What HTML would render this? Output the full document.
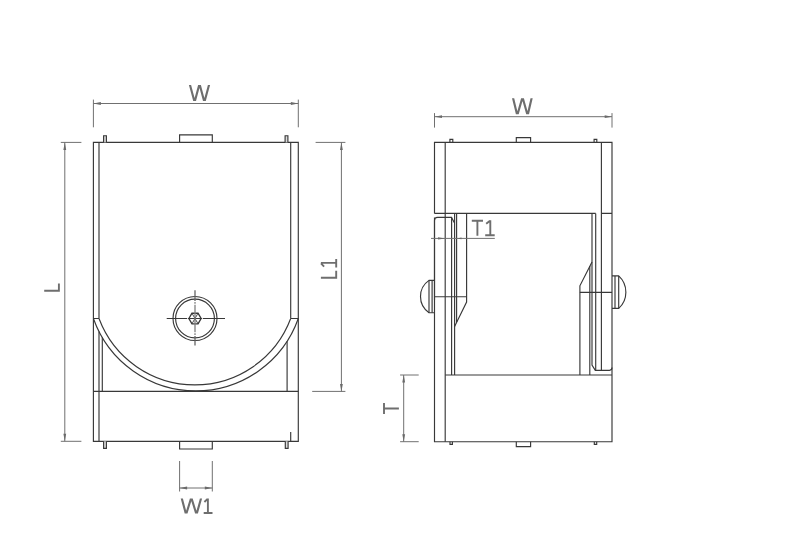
<!DOCTYPE html>
<html>
<head>
<meta charset="utf-8">
<title>Drawing</title>
<style>
html,body{margin:0;padding:0;background:#fff;}
body{width:804px;height:557px;overflow:hidden;font-family:"Liberation Sans",sans-serif;}
svg{display:block;}
.o{stroke:#383838;stroke-width:1.15;fill:none;}
.p{fill:#dcdcdc;}
.d{stroke:#707070;stroke-width:1;fill:none;}
.t{stroke:#6e6e6e;stroke-width:1.9;fill:none;stroke-linecap:butt;stroke-linejoin:miter;}
.a{fill:#6a6a6a;stroke:none;}
</style>
</head>
<body>
<svg width="804" height="557" viewBox="0 0 804 557">
<rect width="804" height="557" fill="#ffffff"/>

<!-- ================= LEFT VIEW ================= -->
<g class="o">
  <!-- outer box -->
  <path d="M93.4 142.4 H298.3 V441.3 H93.4 Z"/>
  <!-- inner verticals -->
  <path d="M99 142.4 V318.5 M99 331.4 V441.3"/>
  <path d="M290.7 142.4 V318.5"/>
  <path d="M93.4 318.5 H99 M290.7 318.5 H298.3"/>
  <!-- arcs -->
  <path d="M93.4 318.5 A108.7 108.7 0 0 0 298.3 318.5"/>
  <path d="M99 318.5 A102.4 102.4 0 0 0 290.7 318.5"/>
  <!-- shelf line -->
  <path d="M93.4 391.4 H298.3"/>
  <path d="M102.3 337.6 V391.4"/>
  <path d="M287.1 341.2 V391.4"/>
  <path d="M290.7 432 V441.3"/>
  <!-- top tab & pins -->
  <path d="M179.6 142.4 V134.9 H212.3 V142.4"/>
  <path class="p" d="M103.6 142.4 V135.7 H106.4 V142.4"/>
  <path class="p" d="M285.1 142.4 V135.7 H287.9 V142.4"/>
  <!-- bottom tab & pins -->
  <path d="M179.6 441.3 V449 H212.3 V441.3"/>
  <path class="p" d="M103.6 441.3 V448.4 H106.4 V441.3"/>
  <path class="p" d="M285.3 441.3 V448.4 H288.1 V441.3"/>
  <!-- bolt -->
  <circle cx="195" cy="318.5" r="22"/>
  <circle cx="195" cy="318.5" r="19.4"/>
  <path d="M188.9 318.5 L191.95 313.2 H198.05 L201.1 318.5 L198.05 323.8 H191.95 Z" stroke-width="1.35"/>
  <path d="M191.95 313.2 L198.05 323.8 M198.05 313.2 L191.95 323.8" stroke-width="0.9"/>
  <path d="M166.7 318.5 H187.2 M188.0 318.5 H202.0 M202.8 318.5 H225"/>
</g>
<path d="M195 290.2 V300.9 M195 336.1 V345.6" stroke="#666" stroke-width="1.3" fill="none"/>
<path d="M195 301.9 V303.7 M195 304.7 V332.3 M195 333.3 V335.1" stroke="#808080" stroke-width="1.3" fill="none"/>

<!-- dims left -->
<g class="d">
  <path d="M93.4 99.6 V127.3 M298.3 99.6 V127.3 M93.4 103.5 H298.3"/>
  <path d="M60.8 142.4 H81.4 M60.8 441.3 H81.4 M64.8 142.4 V441.3"/>
  <path d="M315.6 142.4 H345.4 M312.2 391.4 H345.4 M341.4 142.4 V391.4"/>
  <path d="M179.6 461 V491.5 M212.3 461 V491.5 M179.6 488 H212.3"/>
</g>
<g class="a">
  <path d="M93.4 103.5 L100.9 102.1 V104.9 Z"/>
  <path d="M298.3 103.5 L290.8 102.1 V104.9 Z"/>
  <path d="M64.8 142.4 L63.4 149.9 H66.2 Z"/>
  <path d="M64.8 441.3 L63.4 433.8 H66.2 Z"/>
  <path d="M341.4 142.4 L340.0 149.9 H342.8 Z"/>
  <path d="M341.4 391.4 L340.0 383.9 H342.8 Z"/>
  <path d="M179.6 488.0 L187.1 486.6 V489.4 Z"/>
  <path d="M212.3 488.0 L204.8 486.6 V489.4 Z"/>
</g>

<!-- text left -->
<g class="t">
  <!-- W -->
  <path d="M188.90 85.1 L191.10 85.1 L195.40 101.1 L193.20 101.1 Z M198.10 85.1 L200.30 85.1 L196.00 101.1 L193.80 101.1 Z M198.70 85.1 L200.90 85.1 L205.20 101.1 L203.00 101.1 Z M207.90 85.1 L210.10 85.1 L205.80 101.1 L203.60 101.1 Z" style="fill:#6e6e6e;stroke:none"/>
  <!-- L rotated -->
  <path d="M44.2 290.8 H58.9 V283.4"/>
  <!-- L1 rotated -->
  <path d="M320.9 277.7 H336.2 V270.7"/>
  <path d="M324.1 266.6 L321.0 263.3 M320.9 262.9 H336.8 M336.2 258.9 V267.5"/>
  <!-- W1 -->
  <path d="M180.70 498.4 L182.90 498.4 L186.90 513.6 L184.70 513.6 Z M189.90 498.4 L192.10 498.4 L187.50 513.6 L185.30 513.6 Z M190.50 498.4 L192.70 498.4 L197.30 513.6 L195.10 513.6 Z M199.90 498.4 L202.10 498.4 L197.90 513.6 L195.70 513.6 Z" style="fill:#6e6e6e;stroke:none"/>
  <path d="M204.4 502.0 L207.6 498.9 M207.9 498.4 V513 M203.7 513 H212.5"/>
</g>

<!-- ================= RIGHT VIEW ================= -->
<g class="o">
  <!-- outer -->
  <path d="M434.5 213.4 V142.4 H612.0 V441.7 H434.5 V217.4"/>
  <path d="M445.2 142.4 V441.7"/>
  <path d="M601.4 142.4 V370.3"/>
  <path d="M434.5 213.4 H595.7 M601.4 213.4 H612.0"/>
  <!-- left plate -->
  <path d="M434.5 300 V220.4 Q434.5 217.4 437.5 217.4 H451.5 L454.5 223"/>
  <path d="M451.6 217.4 V375"/>
  <path d="M454.6 213.4 V375"/>
  <path d="M456.6 213.4 V322"/>
  <path d="M466.6 213.4 V302 L454.6 326.5"/>
  <path d="M434.5 296.7 H466.6"/>
  <!-- left bolt head -->
  <path d="M434.5 280.4 H429 A19.6 19.6 0 0 0 429 312.7 H434.5"/>
  <path d="M429 280.4 V312.7 M432.1 280.4 V312.7"/>
  <!-- shelf -->
  <path d="M445.2 375 H612.0"/>
  <!-- right plate -->
  <path d="M595.7 213.4 V370"/>
  <path d="M592 213.4 V365 L595.3 370.3 H609.5 Q612.0 370.3 612.0 367.6"/>
  <path d="M589.8 266 V375"/>
  <path d="M592 261.9 L579.9 285.8 V375"/>
  <path d="M579.9 292.3 H612.0"/>
  <!-- right bolt head -->
  <path d="M612.0 275.9 H618.7 A22 22 0 0 1 618.7 308.4 H612.0"/>
  <path d="M615 275.9 V308.4 M618.7 275.9 V308.4"/>
  <!-- tabs / pins -->
  <path d="M516.3 142.4 V137.6 H530.6 V142.4"/>
  <path d="M449.9 142.4 V139.3 H452.8 V142.4"/>
  <path d="M594.1 142.4 V139.3 H596.8 V142.4"/>
  <path d="M516.3 441.7 V446.6 H530.6 V441.7"/>
  <path d="M450 441.7 V444.4 H452.4 V441.7"/>
  <path d="M594.3 441.7 V444.4 H596.7 V441.7"/>
</g>

<!-- dims right -->
<g class="d">
  <path d="M434.5 113.1 V127.6 M612.0 113.1 V127.6 M434.5 116.7 H612.0"/>
  <path d="M400.1 375 H418.7 M400.1 441.7 H418.7 M403.7 375 V441.7"/>
  <path d="M431 238.4 H494.8"/>
</g>
<g class="a">
  <path d="M434.5 116.7 L442.0 115.3 V118.1 Z"/>
  <path d="M612.0 116.7 L604.7 115.3 V118.1 Z"/>
  <path d="M403.7 375.0 L402.3 382.5 H405.1 Z"/>
  <path d="M403.7 441.7 L402.3 434.2 H405.1 Z"/>
  <path d="M445.2 238.4 L438 237.2 V239.6 Z"/>
  <path d="M456.8 238.4 L461.5 237.6 V239.2 Z"/>
</g>

<!-- text right -->
<g class="t">
  <path d="M512.00 98.3 L514.20 98.3 L518.10 114.3 L515.90 114.3 Z M521.10 98.3 L523.30 98.3 L518.70 114.3 L516.50 114.3 Z M521.70 98.3 L523.90 98.3 L528.40 114.3 L526.20 114.3 Z M530.50 98.3 L532.70 98.3 L529.00 114.3 L526.80 114.3 Z" style="fill:#6e6e6e;stroke:none"/>
  <!-- T rotated -->
  <path d="M384 403.1 V413.9 M384 408.5 H398.9"/>
  <!-- T1 -->
  <path d="M471.8 220.8 H483 M477.4 220.8 V235.8"/>
  <path d="M486.2 223.8 L490.0 220.7 M490.3 220.2 V235.3 M485.2 235.3 H494.7"/>
</g>
</svg>
</body>
</html>
